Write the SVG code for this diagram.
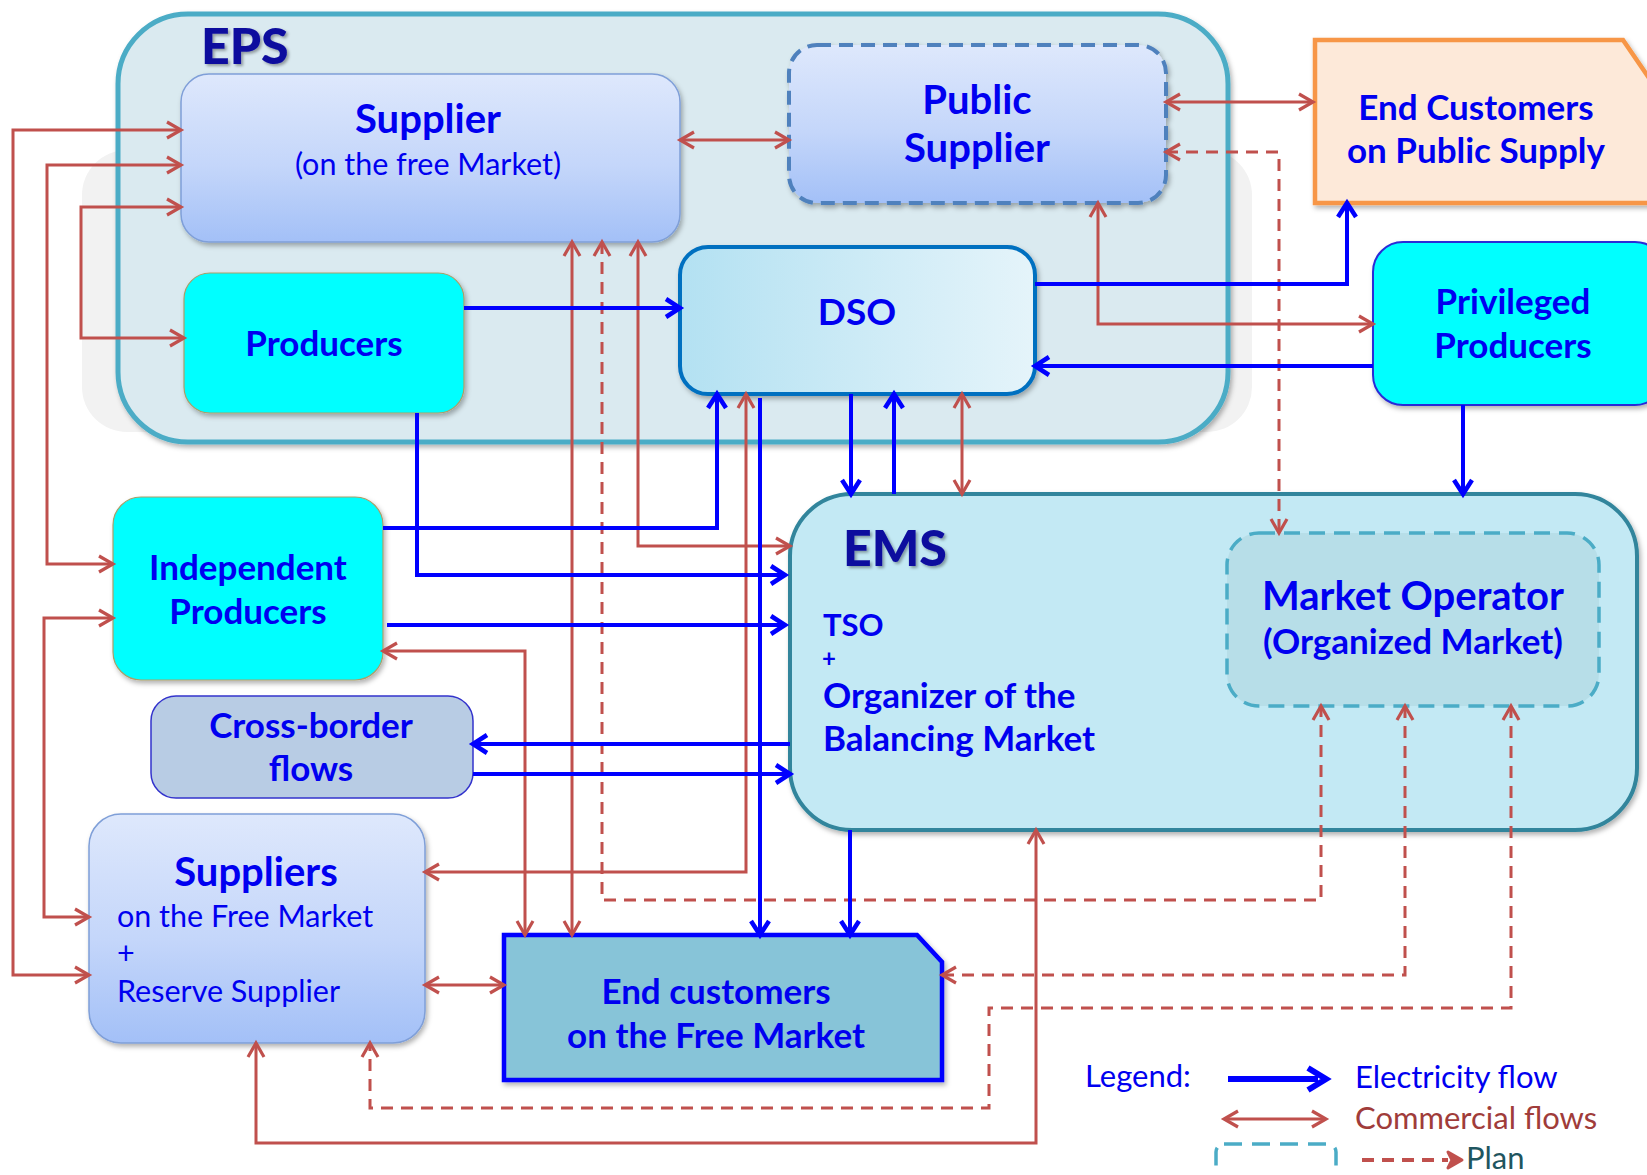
<svg xmlns="http://www.w3.org/2000/svg" width="1647" height="1175" viewBox="0 0 1647 1175">
  <style>
    .t { font-family: Lato, "Open Sans", "Liberation Sans", sans-serif; fill: #0000F0; }
    .b { font-weight: bold; }
    .c { text-anchor: middle; }
    .h1 { font-size: 40px; }
    .h2 { font-size: 35px; }
    .r { font-size: 30.5px; font-weight: normal; }
    .lg { font-family: Lato, "Open Sans", "Liberation Sans", sans-serif; font-size: 31px; }
    .big { font-family: Lato, "Liberation Sans", sans-serif; font-weight: 900; font-size: 50px; fill: #0A0A9E; }
    .com { fill: none; stroke: #C0504D; stroke-width: 3; }
    .plan { fill: none; stroke: #C0504D; stroke-width: 3; stroke-dasharray: 12 8; }
    .el { fill: none; stroke: #0000FF; stroke-width: 4; }
    .cm { marker-start: url(#ra); marker-end: url(#ra); }
    .em { marker-end: url(#ba); }
  </style>
  <defs>
    <linearGradient id="gSup" x1="0" y1="0" x2="0" y2="1">
      <stop offset="0" stop-color="#DEE8FC"/>
      <stop offset="0.55" stop-color="#C4D6FA"/>
      <stop offset="1" stop-color="#A3C0F7"/>
    </linearGradient>
    <linearGradient id="gDso" x1="0" y1="0" x2="1" y2="0">
      <stop offset="0" stop-color="#B3E1F2"/>
      <stop offset="1" stop-color="#E5F4FA"/>
    </linearGradient>
    <filter id="sh" x="-10%" y="-10%" width="120%" height="130%">
      <feDropShadow dx="2" dy="3" stdDeviation="2.5" flood-color="#000" flood-opacity="0.3"/>
    </filter>
    <filter id="tsh" x="-10%" y="-10%" width="130%" height="130%">
      <feDropShadow dx="2" dy="2" stdDeviation="1.5" flood-color="#000" flood-opacity="0.35"/>
    </filter>
    <marker id="ra" markerUnits="userSpaceOnUse" viewBox="-3 -3 22 22" markerWidth="22" markerHeight="22" refX="14" refY="8" orient="auto-start-reverse" overflow="visible">
      <path d="M0,0 L14,8 L0,16" fill="none" stroke="#C0504D" stroke-width="3.2" stroke-linejoin="miter"/>
    </marker>
    <marker id="ba" markerUnits="userSpaceOnUse" viewBox="-3 -3 22 24" markerWidth="22" markerHeight="24" refX="14" refY="9" orient="auto-start-reverse" overflow="visible">
      <path d="M0,0 L14,9 L0,18" fill="none" stroke="#0000FF" stroke-width="4.5" stroke-linejoin="miter"/>
    </marker>
  </defs>

  <rect width="1647" height="1175" fill="#FFFFFF"/>

  <!-- EPS container with its soft backdrop -->
  <g id="eps">
    <rect x="82" y="150" width="1170" height="282" rx="45" fill="#F2F2F2"/>
    <rect x="118" y="14" width="1110" height="428" rx="70" fill="#DAEAF0" stroke="#4BACC6" stroke-width="5" filter="url(#sh)"/>
    <text class="big" x="201" y="64" filter="url(#tsh)">EPS</text>
  </g>

  <!-- EMS container -->
  <g id="ems">
    <rect x="790" y="494" width="847" height="336" rx="62" fill="#C3E9F4" stroke="#31859C" stroke-width="4" filter="url(#sh)"/>
    <text class="big" x="843" y="566" filter="url(#tsh)">EMS</text>
    <text class="t b" style="font-size:31px" x="823" y="636">TSO</text>
    <text class="t b" style="font-size:24px" x="822" y="667">+</text>
    <text class="t b h2" x="823" y="708">Organizer of the</text>
    <text class="t b h2" x="823" y="751">Balancing Market</text>
  </g>

  <g id="market-operator">
    <rect x="1227" y="533" width="372" height="173" rx="32" fill="#B7DEE8" stroke="#4BACC6" stroke-width="3.5" stroke-dasharray="16 9"/>
    <text class="t b c h1" x="1413" y="610">Market Operator</text>
    <text class="t b c h2" x="1413" y="654">(Organized Market)</text>
  </g>

  <g id="supplier">
    <rect x="181" y="74" width="499" height="168" rx="28" fill="url(#gSup)" stroke="#7F9FD8" stroke-width="1.5" filter="url(#sh)"/>
    <text class="t b c h1" x="428" y="133">Supplier</text>
    <text class="t c r" x="428" y="175">(on the free Market)</text>
  </g>

  <g id="public-supplier">
    <rect x="789" y="45" width="377" height="158" rx="28" fill="url(#gSup)" stroke="#4F81BD" stroke-width="4" stroke-dasharray="14 8" filter="url(#sh)"/>
    <text class="t b c h1" x="977" y="114">Public</text>
    <text class="t b c h1" x="977" y="162">Supplier</text>
  </g>

  <g id="end-customers-public">
    <path d="M1315,40 H1623 L1662,97 V203 H1315 Z" fill="#FDE9D9" stroke="#F79646" stroke-width="4.5" filter="url(#sh)"/>
    <text class="t b c h2" x="1476" y="120">End Customers</text>
    <text class="t b c h2" x="1476" y="163">on Public Supply</text>
  </g>

  <g id="dso">
    <rect x="680" y="247" width="355" height="147" rx="28" fill="url(#gDso)" stroke="#0070C0" stroke-width="4" filter="url(#sh)"/>
    <text class="t b c h2" style="font-size:37px" x="857" y="325">DSO</text>
  </g>

  <g id="producers">
    <rect x="184" y="273" width="280" height="140" rx="26" fill="#00FFFF" stroke="#A89F6A" stroke-width="1.2" filter="url(#sh)"/>
    <text class="t b c h2" x="324" y="356">Producers</text>
  </g>

  <g id="privileged-producers">
    <rect x="1373" y="242" width="292" height="163" rx="30" fill="#00FFFF" stroke="#2B2BD6" stroke-width="2" filter="url(#sh)"/>
    <text class="t b c h2" x="1513" y="314">Privileged</text>
    <text class="t b c h2" x="1513" y="358">Producers</text>
  </g>

  <g id="independent-producers">
    <rect x="113" y="497" width="270" height="183" rx="28" fill="#00FFFF" stroke="#A89F6A" stroke-width="1.2" filter="url(#sh)"/>
    <text class="t b c h2" x="248" y="580">Independent</text>
    <text class="t b c h2" x="248" y="624">Producers</text>
  </g>

  <g id="cross-border">
    <rect x="151" y="696" width="322" height="102" rx="25" fill="#B8CCE4" stroke="#3333CC" stroke-width="1.5"/>
    <text class="t b c h2" x="311" y="738">Cross-border</text>
    <text class="t b c h2" x="311" y="781">flows</text>
  </g>

  <g id="suppliers-free-market">
    <rect x="89" y="814" width="336" height="229" rx="32" fill="url(#gSup)" stroke="#7F9FD8" stroke-width="1.5" filter="url(#sh)"/>
    <text class="t b c h1" x="256" y="886">Suppliers</text>
    <text class="t r" x="117" y="927">on the Free Market</text>
    <text class="t r" x="117" y="964">+</text>
    <text class="t r" x="117" y="1002">Reserve Supplier</text>
  </g>

  <g id="end-customers-free">
    <path d="M504,935 H917 L942,962 V1080 H504 Z" fill="#87C4D8" stroke="#0000FF" stroke-width="4.5" filter="url(#sh)"/>
    <text class="t b c h2" x="716" y="1004">End customers</text>
    <text class="t b c h2" x="716" y="1048">on the Free Market</text>
  </g>

  <!-- flows between the parties -->
  <g id="connectors">
    <!-- commercial flows -->
    <path class="com cm" d="M181,130 H13 V975 H89"/>
    <path class="com cm" d="M181,165 H47 V564 H113"/>
    <path class="com cm" d="M113,618 H44 V917 H89"/>
    <path class="com cm" d="M181,207 H81 V338 H184"/>
    <path class="com cm" d="M680,140 H789"/>
    <path class="com cm" d="M1166,102 H1313"/>
    <path class="com cm" d="M1098,203 V324 H1373"/>
    <path class="com cm" d="M746,394 V872 H425"/>
    <path class="com cm" d="M962,394 V494"/>
    <path class="com cm" d="M572,242 V935"/>
    <path class="com cm" d="M638,242 V546 H790"/>
    <path class="com cm" d="M383,651 H525 V935"/>
    <path class="com cm" d="M425,985 H504"/>
    <path class="com cm" d="M1036,830 V1143 H256 V1043"/>
    <!-- plans -->
    <path class="plan cm" d="M1166,152 H1279 V533"/>
    <path class="plan cm" d="M602,242 V900 H1321 V706"/>
    <path class="plan cm" d="M1405,706 V975 H942"/>
    <path class="plan cm" d="M1511,706 V1008 H989 V1108 H370 V1043"/>
    <!-- electricity flows -->
    <path class="el em" d="M464,308 H680"/>
    <path class="el em" d="M1035,284 H1347 V203"/>
    <path class="el em" d="M1373,366 H1035"/>
    <path class="el em" d="M1463,405 V494"/>
    <path class="el em" d="M417,413 V575 H785"/>
    <path class="el em" d="M383,528 H717 V394"/>
    <path class="el em" d="M387,625 H785"/>
    <path class="el em" d="M790,744 H473"/>
    <path class="el em" d="M473,774 H790"/>
    <path class="el em" d="M760,398 V935"/>
    <path class="el em" d="M851,394 V494"/>
    <path class="el em" d="M894,494 V394"/>
    <path class="el em" d="M850,830 V935"/>
  </g>

  <!-- legend -->
  <g id="legend">
    <text class="t lg" x="1085" y="1087">Legend:</text>
    <path d="M1228,1079 H1318" stroke="#0000FF" stroke-width="6" fill="none"/>
    <path d="M1308,1068 L1326,1079 L1308,1090" stroke="#0000FF" stroke-width="6" fill="none"/>
    <text class="t lg" x="1355" y="1088">Electricity flow</text>
    <path class="com cm" d="M1224,1119 H1326"/>
    <text class="lg" style="fill:#A03C3A" x="1355" y="1129">Commercial flows</text>
    <rect x="1216" y="1144" width="120" height="40" rx="8" fill="none" stroke="#4BACC6" stroke-width="3.5" stroke-dasharray="18 10"/>
    <path d="M1362,1160 H1448" stroke="#C0504D" stroke-width="4" stroke-dasharray="12 8" fill="none"/>
    <path d="M1448,1152 L1462,1160 L1448,1168 L1452,1160 Z" fill="#C0504D" stroke="#C0504D" stroke-width="3" stroke-linejoin="round"/>
    <text class="lg" style="fill:#1F5660" x="1466" y="1169">Plan</text>
  </g>
</svg>
